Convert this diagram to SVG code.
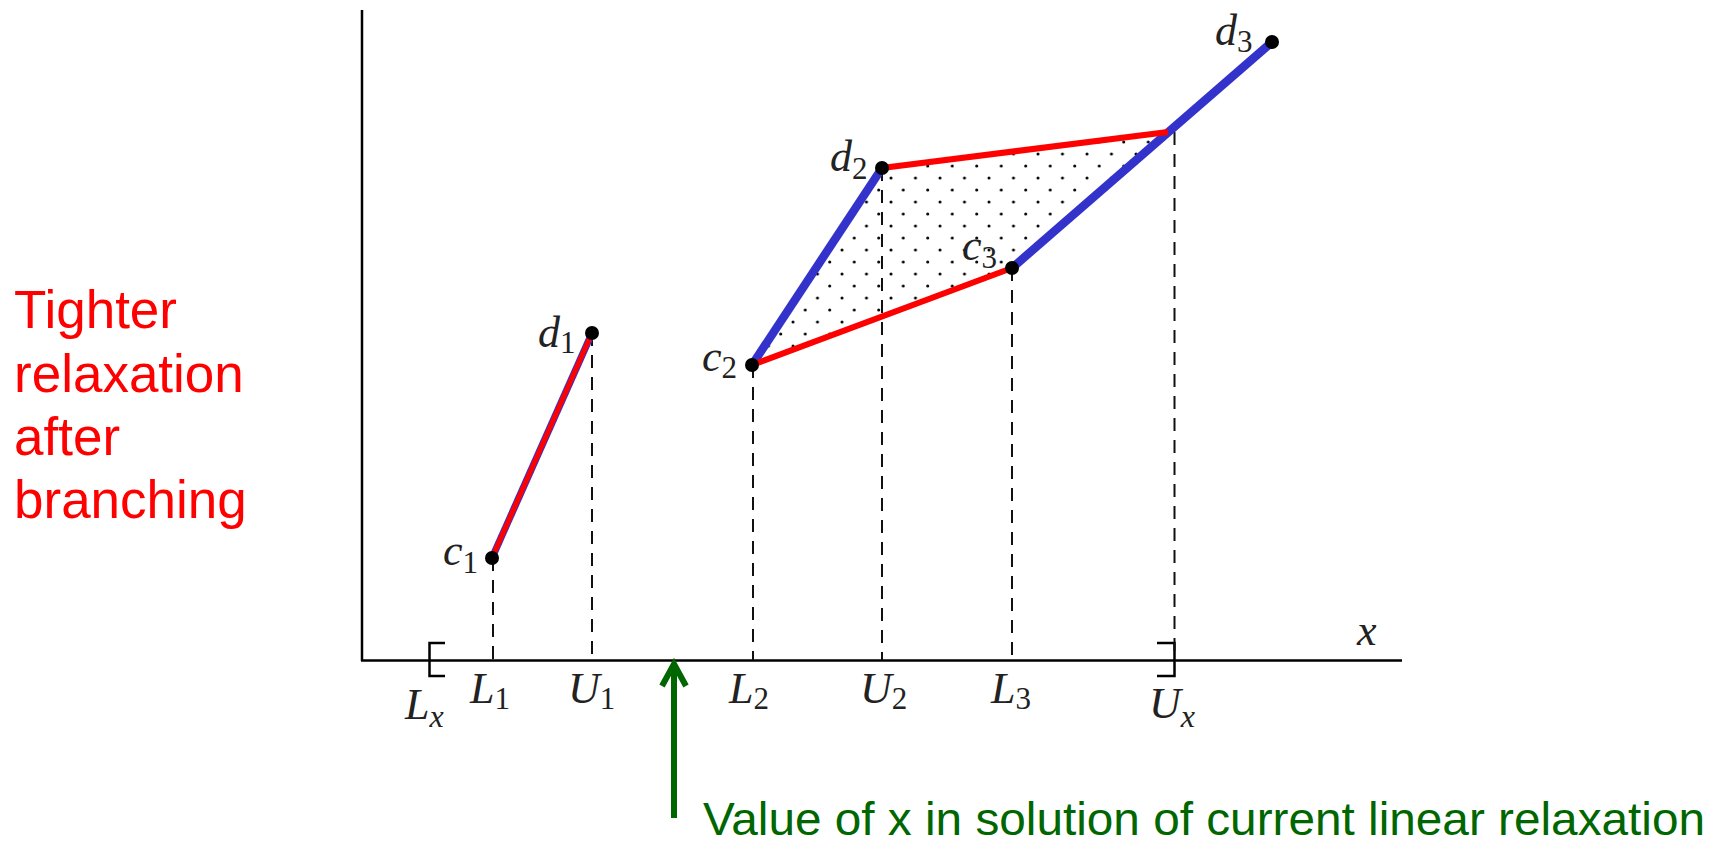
<svg xmlns="http://www.w3.org/2000/svg" width="1722" height="844" viewBox="0 0 1722 844">
<style>
.axis{stroke:#000;stroke-width:2.5;fill:none}
.dash{stroke:#111;stroke-width:2;stroke-dasharray:13 9;fill:none}
.blue{stroke:#3333cc;stroke-width:8.5;stroke-linecap:butt;fill:none}
.red{stroke:#ff0000;stroke-width:6;stroke-linecap:butt;fill:none}
.dot{fill:#000}
.m{font-family:"Liberation Serif","DejaVu Serif",serif;font-style:italic;font-size:44px;fill:#222}
.s{font-style:normal;font-size:31px}
.si{font-style:italic;font-size:32px}
.note-red{font-family:"Liberation Sans",Arial,sans-serif;font-size:53px;fill:#ff0000}
.note-green{font-family:"Liberation Sans",Arial,sans-serif;font-size:47px;fill:#006600}
.bracket{stroke:#000;stroke-width:2.5;fill:none}
</style>
<defs>
<pattern id="dots" patternUnits="userSpaceOnUse" x="3" y="4" width="24.5" height="24">
<circle cx="6" cy="6" r="1.5" fill="#000"/>
<circle cx="18.25" cy="18" r="1.5" fill="#000"/>
</pattern>
</defs>
<rect width="1722" height="844" fill="#fff"/>

<g id="axes">
<line class="axis" x1="362" y1="10" x2="362" y2="661"/>
<line class="axis" x1="361" y1="660.5" x2="1402" y2="660.5"/>
<path class="bracket" d="M445 643 H429.5 V676 H445"/>
<path class="bracket" d="M1157 643 H1174.5 V676 H1157"/>
<text class="m" x="1357" y="645">x</text>
</g>

<g id="region">
<polygon points="752,365 882,168 1168,132 1012,268" fill="url(#dots)"/>
</g>

<g id="connectors">
<line class="dash" x1="493" y1="558" x2="493" y2="660"/>
<line class="dash" x1="592" y1="333" x2="592" y2="660"/>
<line class="dash" x1="753" y1="365" x2="753" y2="660"/>
<line class="dash" x1="882" y1="168" x2="882" y2="660"/>
<line class="dash" x1="1012" y1="268" x2="1012" y2="660"/>
<line class="dash" x1="1174.5" y1="132" x2="1174.5" y2="660"/>
<line class="blue" x1="492" y1="558" x2="592" y2="333" style="stroke-width:7"/>
<line class="red" x1="492" y1="558" x2="592" y2="333" style="stroke-width:5"/>
<line class="blue" x1="752" y1="365" x2="882" y2="168"/>
<line class="blue" x1="1012" y1="268" x2="1272" y2="42"/>
<line class="red" x1="752" y1="365" x2="1012" y2="268"/>
<line class="red" x1="882" y1="168" x2="1168" y2="132"/>
<g id="arrow" stroke="#006600" stroke-width="6" fill="none">
<line x1="674" y1="818" x2="674" y2="666"/>
<polyline points="662,686 674,664 686,686" stroke-linejoin="miter"/>
</g>
</g>

<g id="c1"><circle class="dot" cx="492" cy="558" r="7"/><text class="m" x="443" y="565">c<tspan class="s" dy="8">1</tspan></text></g>
<g id="d1"><circle class="dot" cx="592" cy="333" r="7"/><text class="m" x="538" y="347">d<tspan class="s" dy="6">1</tspan></text></g>
<g id="c2"><circle class="dot" cx="752" cy="365" r="7"/><text class="m" x="702" y="371">c<tspan class="s" dy="7">2</tspan></text></g>
<g id="d2"><circle class="dot" cx="882" cy="168" r="7"/><text class="m" x="830" y="171">d<tspan class="s" dy="8">2</tspan></text></g>
<g id="c3"><circle class="dot" cx="1012" cy="268" r="7"/><text class="m" x="962" y="260">c<tspan class="s" dy="8">3</tspan></text></g>
<g id="d3"><circle class="dot" cx="1272" cy="42" r="7"/><text class="m" x="1215" y="45">d<tspan class="s" dy="7">3</tspan></text></g>

<g id="ticks">
<text class="m" x="405" y="719">L<tspan class="si" dy="8">x</tspan></text>
<text class="m" x="470" y="703">L<tspan class="s" dy="6">1</tspan></text>
<text class="m" x="568" y="703">U<tspan class="s" dy="6">1</tspan></text>
<text class="m" x="729" y="703">L<tspan class="s" dy="6">2</tspan></text>
<text class="m" x="860" y="703">U<tspan class="s" dy="6">2</tspan></text>
<text class="m" x="991" y="703">L<tspan class="s" dy="6">3</tspan></text>
<text class="m" x="1149" y="718">U<tspan class="si" dy="9">x</tspan></text>
</g>

<g id="note-tighter">
<text class="note-red" x="14" y="328">Tighter</text>
<text class="note-red" x="14" y="392">relaxation</text>
<text class="note-red" x="14" y="455">after</text>
<text class="note-red" x="14" y="518">branching</text>
</g>

<g id="note-value">
<text class="note-green" x="703" y="835" textLength="1002" lengthAdjust="spacingAndGlyphs">Value of x in solution of current linear relaxation</text>
</g>
</svg>
